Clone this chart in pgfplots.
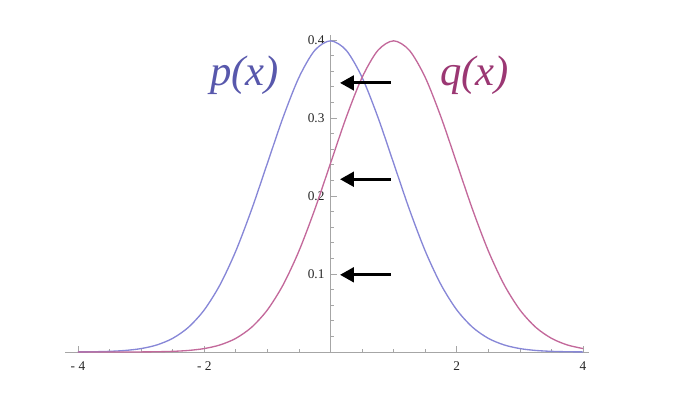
\documentclass[border=0pt]{standalone}
\usepackage{fontspec}
\setmainfont{Liberation Serif}
\usepackage{pgfplots}
\pgfplotsset{compat=1.18}
\usetikzlibrary{arrows.meta}

\definecolor{pline}{RGB}{135,135,215}
\definecolor{qline}{RGB}{195,105,155}
\definecolor{ptext}{RGB}{88,88,172}
\definecolor{qtext}{RGB}{155,55,115}

% N(0,1) density read at steps of 0.25
\pgfplotstableread{
x      p          q
-4.00  0.000134   0.0000015
-3.75  0.000353   0.0000052
-3.50  0.000873   0.000016
-3.25  0.002029   0.0000477
-3.00  0.004432   0.000134
-2.75  0.009094   0.000353
-2.50  0.017528   0.000873
-2.25  0.031740   0.002029
-2.00  0.053991   0.004432
-1.75  0.086277   0.009094
-1.50  0.129518   0.017528
-1.25  0.182649   0.031740
-1.00  0.241971   0.053991
-0.75  0.301137   0.086277
-0.50  0.352065   0.129518
-0.25  0.386668   0.182649
 0.00  0.398942   0.241971
 0.25  0.386668   0.301137
 0.50  0.352065   0.352065
 0.75  0.301137   0.386668
 1.00  0.241971   0.398942
 1.25  0.182649   0.386668
 1.50  0.129518   0.352065
 1.75  0.086277   0.301137
 2.00  0.053991   0.241971
 2.25  0.031740   0.182649
 2.50  0.017528   0.129518
 2.75  0.009094   0.086277
 3.00  0.004432   0.053991
 3.25  0.002029   0.031740
 3.50  0.000873   0.017528
 3.75  0.000353   0.009094
 4.00  0.000134   0.004432
}\dens

\begin{document}
\begin{tikzpicture}
\path (-49pt,-48pt) rectangle (469.2pt,264pt);
\begin{axis}[
    at={(0,0)}, anchor=south west,
    scale only axis,
    width=393pt, height=237.5pt,
    xmin=-4.2, xmax=4.1,
    ymin=0, ymax=0.406,
    axis lines=middle,
    axis line style={draw=gray!70, line width=0.6pt, -},
    xtick={-4,-2,2,4},
    xticklabels={- 4,- 2,2,4},
    minor xtick={-3.5,-3,...,3.5},
    ytick={0.1,0.2,0.3,0.4},
    yticklabels={0.1,0.2,0.3,0.4},
    minor ytick={0.02,0.04,...,0.39},
    tick style={draw=gray!70, line width=0.5pt},
    major tick length=4.5pt,
    minor tick length=2.5pt,
    tick align=inside,
    ticklabel style={font=\fontsize{10}{11}\selectfont, text=gray!30!black},
    xticklabel style={yshift=-4pt},
    yticklabel style={xshift=-1pt},
    /pgf/number format/assume math mode=true,
    clip=false,
]
\addplot[pline, line width=1pt, smooth] table[x=x, y=p] {\dens};
\addplot[qline, line width=1pt, smooth] table[x=x, y=q] {\dens};
\draw[line width=2.3pt, -{Triangle[length=10.5pt,width=11pt]}] (axis cs:0.95,0.345) -- (axis cs:0.15,0.345);
\draw[line width=2.3pt, -{Triangle[length=10.5pt,width=11pt]}] (axis cs:0.95,0.2215) -- (axis cs:0.15,0.2215);
\draw[line width=2.3pt, -{Triangle[length=10.5pt,width=11pt]}] (axis cs:0.95,0.099) -- (axis cs:0.15,0.099);
\node[text=ptext, font=\fontsize{32}{36}\selectfont\itshape] at (axis cs:-1.36,0.355) {p(x)};
\node[text=qtext, font=\fontsize{32}{36}\selectfont\itshape] at (axis cs:2.28,0.355) {q(x)};
\end{axis}
\end{tikzpicture}
\end{document}
